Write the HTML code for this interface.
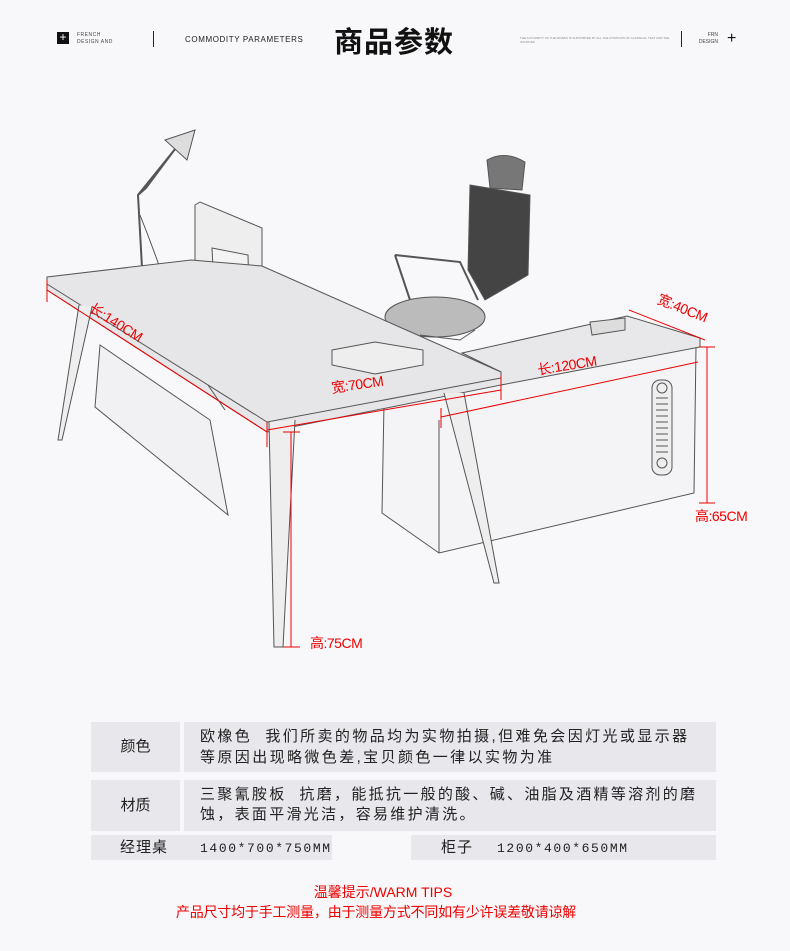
<!DOCTYPE html>
<html><head><meta charset="utf-8"><style>
body{margin:0;width:790px;height:951px;background:#f8f8fa;position:relative;overflow:hidden;font-family:"Liberation Sans","Noto Sans CJK SC",sans-serif}
.a{position:absolute}
.cell{position:absolute;background:#e8e8ec;color:#222}
.red{color:#e00;position:absolute;font-size:14px;white-space:nowrap;transform-origin:left top;letter-spacing:-0.5px}
</style></head><body>
<!-- header -->
<div class="a" style="left:57px;top:32px;width:12px;height:12px;background:#111;color:#fff;font-size:12px;line-height:11px;text-align:center">+</div>
<div class="a" style="left:77px;top:32px;font-size:5px;color:#444;line-height:7px;letter-spacing:.5px">FRENCH<br>DESIGN AND</div>
<div class="a" style="left:153px;top:31px;width:1px;height:16px;background:#222"></div>
<div class="a" style="left:185px;top:35px;font-size:8px;color:#222;letter-spacing:.6px">COMMODITY PARAMETERS</div>
<div class="a" style="left:334px;top:22px;font-size:29px;font-weight:bold;color:#111;font-family:'Noto Sans CJK SC',sans-serif;line-height:36px;letter-spacing:1px">商品参数</div>
<div class="a" style="left:520px;top:36px;font-size:3px;color:#888;line-height:4px;width:150px">THE AUTHORITY OF THE WORKS IS SUPPORTED BY ALL THE CITATIONS OF CLASSICAL TEXT AND THE SOURCES</div>
<div class="a" style="left:681px;top:31px;width:1px;height:16px;background:#222"></div>
<div class="a" style="left:690px;top:32px;font-size:5px;color:#444;line-height:7px;text-align:right;width:28px">FRN<br>DESIGN</div>
<div class="a" style="left:727px;top:30px;font-size:16px;color:#111;line-height:18px">+</div>

<svg class="a" style="left:0;top:0" width="790" height="700" viewBox="0 0 790 700">
<g fill="none" stroke="#555" stroke-width="1">
<!-- lamp -->
<ellipse cx="147" cy="271" rx="23" ry="5" fill="#ccc"/>
<path d="M142 268 L138 195 L180 143 M138 195 L146 188 L178 145" stroke-width="2"/>
<path d="M165 140 L195 130 L187 160 Z" fill="#ddd"/>
<path d="M140 215 Q150 240 160 268"/>
<!-- monitor -->
<path d="M195 205 L200 202 L262 228 L262 330 L232 326 L195 300 Z" fill="#eee"/>
<path d="M212 248 L248 255 L250 333 L216 328 Z" fill="#f3f3f3"/>
<ellipse cx="214" cy="283" rx="4" ry="7"/>
<!-- chair -->
<path d="M487 160 Q505 150 525 162 L522 190 L490 188 Z" fill="#777"/>
<path d="M470 185 L530 195 L528 275 L485 300 L468 270 Z" fill="#444"/>
<path d="M395 255 L460 262 L478 300 M395 255 L410 300" stroke-width="2"/>
<ellipse cx="435" cy="317" rx="50" ry="20" fill="#bbb"/>
<path d="M420 335 L460 340 L475 330" />
<!-- modesty panel -->
<path d="M100 345 L210 420 L228 515 L95 407 Z" fill="#f1f1f3"/>
<!-- cabinet -->
<path d="M384 403 L696 347 L694 493 L439 553 L382 513 Z" fill="#f4f4f6"/>
<path d="M439 420 L439 553"/>
<rect x="652" y="380" width="20" height="95" rx="8" fill="#eee"/>
<circle cx="662" cy="388" r="5"/><circle cx="662" cy="463" r="5"/>
<path d="M656 398 h12 M656 404 h12 M656 410 h12 M656 416 h12 M656 422 h12 M656 428 h12 M656 434 h12 M656 440 h12 M656 446 h12 M656 452 h12"/>
<!-- return top -->
<path d="M462 353 L627 316 L700 338 L700 347 L501 385 L501 372 Z" fill="#e8e8ea"/>
<path d="M590 322 L625 318 L625 330 L592 335 Z" fill="#ddd"/>
<!-- main top -->
<path d="M47 277 L191 260 L262 266 L501 372 L501 385 L267 432 L47 290 Z" fill="#e6e6e8"/>
<path d="M47 284 L267 422 L501 378"/>
<!-- book -->
<path d="M332 350 L375 342 L423 350 L423 365 L375 374 L332 365 Z" fill="#eee"/>
<!-- legs -->
<path d="M79 305 L58 440 L62 440 L92 307" fill="#eee"/>
<path d="M269 422 L274 647 L283 647 L295 420" fill="#eee"/>
<path d="M444 393 L494 583 L499 583 L464 393" fill="#eee"/>
<path d="M208 385 L225 410"/>
</g>
<g stroke="#e00" stroke-width="1" fill="none">
<path d="M47 290 L267 432 M47 280 V302 M267 422 V447"/>
<path d="M267 430 L501 390 M501 375 V400"/>
<path d="M441 417 L698 362 M441 408 V428"/>
<path d="M629 310 L705 340"/>
<path d="M707 347 V503 M699 347 H715 M699 503 H715"/>
<path d="M291 432 V647 M283 432 H300 M283 647 H300"/>
</g>
</svg>
<div class="red" style="left:96px;top:298px;transform:rotate(32deg)">长:140CM</div>
<div class="red" style="left:330px;top:378px;transform:rotate(-8deg)">宽:70CM</div>
<div class="red" style="left:536px;top:360px;transform:rotate(-9deg)">长:120CM</div>
<div class="red" style="left:662px;top:289px;transform:rotate(22deg)">宽:40CM</div>
<div class="red" style="left:695px;top:506px">高:65CM</div>
<div class="red" style="left:310px;top:633px">高:75CM</div>

<!-- table -->
<div class="cell" style="left:91px;top:722px;width:89px;height:50px;line-height:50px;text-align:center;font-size:15px">颜色</div>
<div class="cell" style="left:184px;top:722px;height:50px;padding-left:16px;font-size:15px;line-height:21px;padding-top:4px;box-sizing:border-box;width:532px;letter-spacing:2.4px;white-space:nowrap">欧橡色&nbsp; 我们所卖的物品均为实物拍摄,但难免会因灯光或显示器<br>等原因出现略微色差,宝贝颜色一律以实物为准</div>
<div class="cell" style="left:91px;top:780px;width:89px;height:51px;line-height:51px;text-align:center;font-size:15px">材质</div>
<div class="cell" style="left:184px;top:780px;width:532px;height:51px;padding-left:16px;font-size:15px;line-height:20px;padding-top:5px;box-sizing:border-box;letter-spacing:2.3px;white-space:nowrap">三聚氰胺板&nbsp; 抗磨，能抵抗一般的酸、碱、油脂及酒精等溶剂的磨<br>蚀，表面平滑光洁，容易维护清洗。</div>
<div class="cell" style="left:91px;top:835px;width:241px;height:25px;line-height:25px;font-size:15px;white-space:nowrap"><span style="margin-left:29px;letter-spacing:1px">经理桌</span><span style="margin-left:32px;font-family:'Liberation Mono',monospace;font-size:13px;letter-spacing:1.6px">1400*700*750MM</span></div>
<div class="cell" style="left:411px;top:835px;width:305px;height:25px;line-height:25px;font-size:15px;white-space:nowrap"><span style="margin-left:30px;letter-spacing:1px">柜子</span><span style="margin-left:24px;font-family:'Liberation Mono',monospace;font-size:13px;letter-spacing:1.6px">1200*400*650MM</span></div>
<div class="a" style="left:0;width:766px;top:882px;text-align:center;color:#e00;font-size:14px">温馨提示/WARM TIPS</div>
<div class="a" style="left:0;width:752px;top:902px;text-align:center;color:#e00;font-size:14px;letter-spacing:-0.2px">产品尺寸均于手工测量，由于测量方式不同如有少许误差敬请谅解</div>
</body></html>
